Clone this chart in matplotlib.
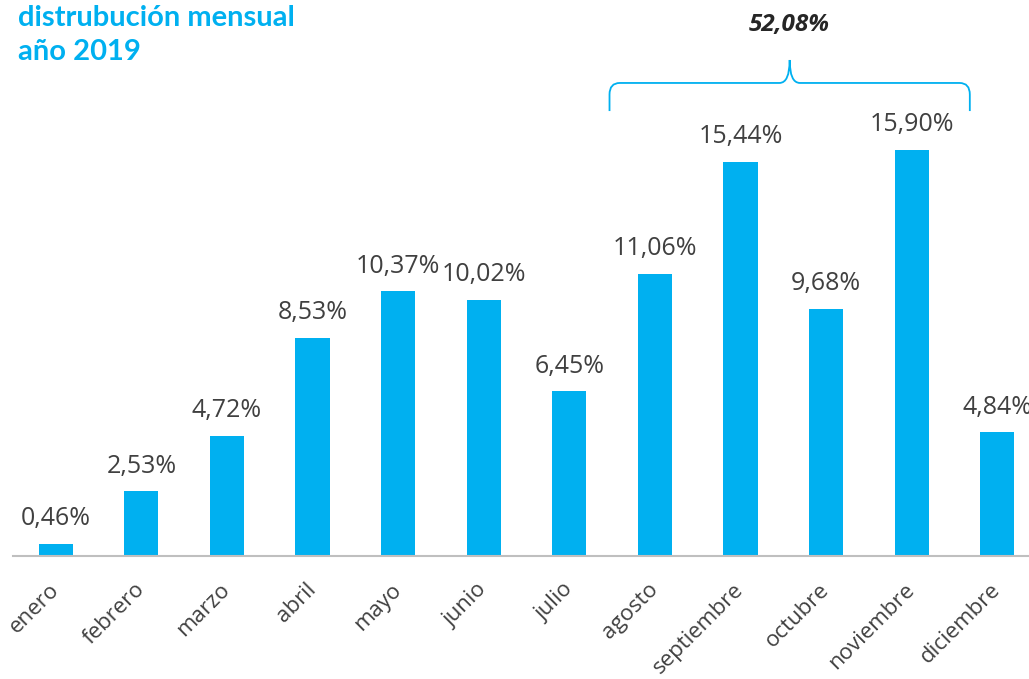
import matplotlib
matplotlib.use("Agg")
import matplotlib.pyplot as plt
from matplotlib.path import Path
from matplotlib.patches import PathPatch
import numpy as np

MONTHS = ["enero", "febrero", "marzo", "abril", "mayo", "junio", "julio",
          "agosto", "septiembre", "octubre", "noviembre", "diciembre"]
SHARE = [0.46, 2.53, 4.72, 8.53, 10.37, 10.02, 6.45,
         11.06, 15.44, 9.68, 15.90, 4.84]
# months grouped under the brace (agosto..noviembre)
GROUP = [7, 8, 9, 10]

BLUE = "#00B0F0"
TXT = "#404040"


def pct(v):
    return f"{v:.2f}%".replace(".", ",")


fig = plt.figure(figsize=(10.29, 6.79), dpi=100)
# axes runs a little past the right edge, like the source slide
ax = fig.add_axes([13 / 1029, 123 / 679, 1027 / 1029, 556 / 679])
x = np.arange(len(MONTHS))
ax.bar(x, SHARE, width=0.4, color=BLUE, zorder=2)
ax.set_xlim(-0.5, 11.5)
ax.set_ylim(0, 21.78)

for xi, v in zip(x, SHARE):
    ax.text(xi, v + 0.5, pct(v), ha="center", va="bottom",
            fontsize=18, color=TXT, family="Open Sans")

for s in ["top", "right", "left"]:
    ax.spines[s].set_visible(False)
ax.spines["bottom"].set_color("#BFBFBF")
ax.spines["bottom"].set_linewidth(1.5)
ax.set_yticks([])
ax.set_xticks(x)
ax.set_xticklabels(MONTHS, rotation=45, ha="right", va="center",
                   rotation_mode="anchor", fontsize=16, color=TXT,
                   family="Open Sans")
ax.tick_params(axis="x", length=0, pad=22)

# brace over the grouped months
x0, x1 = GROUP[0] - 0.53, GROUP[-1] + 0.68
xc = (x0 + x1) / 2
yb, yt, ytip = 17.43, 18.53, 19.43
rx, ry = 0.12, 0.45
verts = [(x0, yb), (x0, yt - ry), (x0, yt), (x0 + rx, yt),
         (xc - rx, yt), (xc, yt), (xc, ytip),
         (xc, yt), (xc + rx, yt),
         (x1 - rx, yt), (x1, yt), (x1, yt - ry), (x1, yb)]
codes = [Path.MOVETO, Path.LINETO, Path.CURVE3, Path.CURVE3,
         Path.LINETO, Path.CURVE3, Path.CURVE3,
         Path.CURVE3, Path.CURVE3,
         Path.LINETO, Path.CURVE3, Path.CURVE3, Path.LINETO]
ax.add_patch(PathPatch(Path(verts, codes), fill=False, edgecolor=BLUE,
                       lw=1.3, clip_on=False))
total = sum(SHARE[i] for i in GROUP)
ax.text(xc, 20.8, pct(total), ha="center", va="center", fontsize=17.5,
        fontweight="bold", fontstyle="italic", color="#262626",
        family="Open Sans")

fig.text(18 / 1029, 1 - 18 / 679, "distrubución mensual", ha="left",
         va="center", fontsize=21, fontweight="bold", color=BLUE, family="Lato")
fig.text(18 / 1029, 1 - 52 / 679, "año 2019", ha="left",
         va="center", fontsize=21, fontweight="bold", color=BLUE, family="Lato")

fig.savefig("out.png", dpi=100)
